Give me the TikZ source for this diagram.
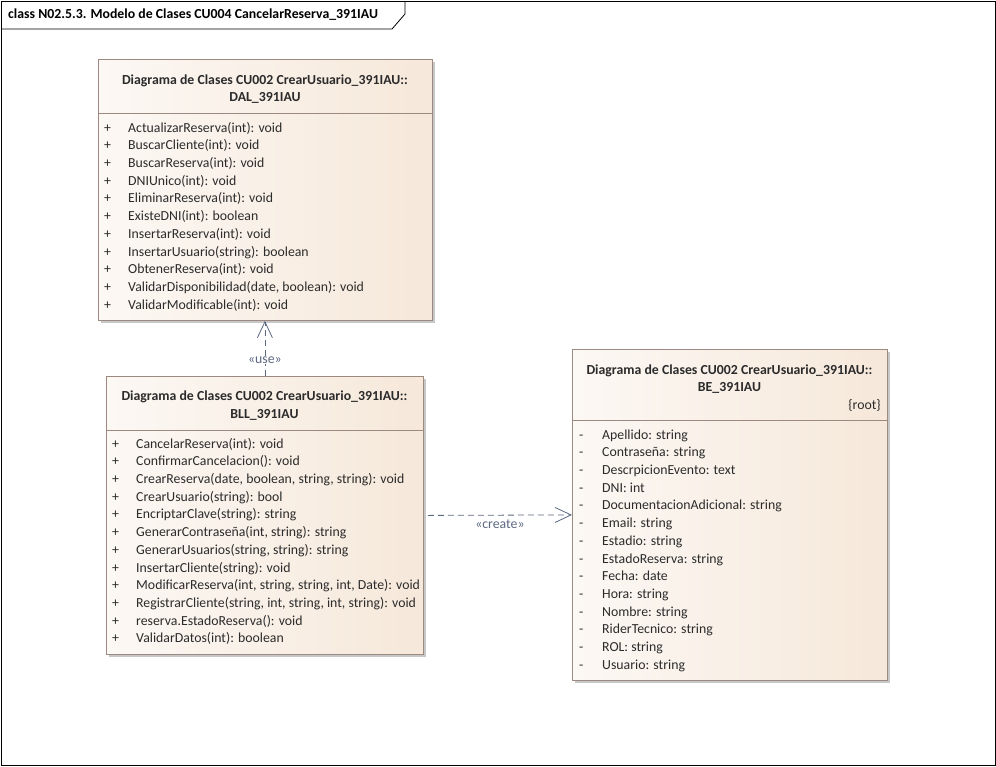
\documentclass[tikz,border=0pt]{standalone}
\usepackage{fontspec}
\setmainfont{Carlito}
\usetikzlibrary{arrows.meta,shadows}

\definecolor{borde}{HTML}{9C8A82}
\definecolor{relleno}{HTML}{F6E8DA}
\definecolor{claro}{HTML}{FCF8F4}
\definecolor{flecha}{HTML}{5C6880}
\definecolor{texto}{HTML}{2B2B2B}

\tikzset{
  clase/.style={draw=borde, line width=0.8pt, left color=claro, right color=relleno,
    general shadow={fill=black!22, shadow xshift=3pt, shadow yshift=-3pt},
    inner sep=0pt, anchor=north west},
  titulo/.style={font=\bfseries\fontsize{13.8}{17.5}\selectfont, align=center, text=texto, inner sep=0pt},
  filas/.style={anchor=north west, inner sep=0pt, font=\fontsize{13.8}{17.7}\selectfont, text=texto},
  dep/.style={draw=flecha, dash pattern=on 6pt off 4pt, line width=0.8pt,
    -{Straight Barb[length=16pt,width=15pt]}},
  estereo/.style={font=\fontsize{13.8}{15}\selectfont, text=flecha, inner sep=1pt},
}

\begin{document}
\begin{tikzpicture}[x=1pt, y=-1pt]
        \useasboundingbox (0,0) rectangle (996,766);

        % Marco
        \draw[line width=0.8pt] (1,1) rectangle (995,765);
        \draw[line width=0.8pt] (1,29) -- (392,29) -- (405,14) -- (405,1);
        \node[anchor=west, font=\bfseries\fontsize{13.8}{15}\selectfont, inner sep=0pt] (marco) at (8,15)
            {class N02.5.3. Modelo de Clases CU004 CancelarReserva\_391IAU};

        % Clases
        \node[clase, minimum width=334pt, minimum height=261pt] (dal) at (98,59) {};
        \node[clase, minimum width=317pt, minimum height=278pt] (bll) at (106,376) {};
        \node[clase, minimum width=315pt, minimum height=331pt] (be) at (572,349) {};

        \draw[borde, line width=0.8pt] ([yshift=-54pt]dal.north west) -- ([yshift=-54pt]dal.north east);
        \draw[borde, line width=0.8pt] ([yshift=-54pt]bll.north west) -- ([yshift=-54pt]bll.north east);
        \draw[borde, line width=0.8pt] ([yshift=-71pt]be.north west) -- ([yshift=-71pt]be.north east);

        % Titulos
        \node[titulo] (tdal) at (265,89) {Diagrama de Clases CU002 CrearUsuario\_391IAU::\\DAL\_391IAU};
        \node[titulo] (tbll) at (264.5,405.5) {Diagrama de Clases CU002 CrearUsuario\_391IAU::\\BLL\_391IAU};
        \node[titulo] (tbe) at (729.5,379) {Diagrama de Clases CU002 CrearUsuario\_391IAU::\\BE\_391IAU};
        \node[anchor=east, font=\fontsize{13.8}{15}\selectfont, text=texto, inner sep=0pt] (root) at (881,405) {\{root\}};

        % Operaciones y atributos
        \node[filas] (fdal) at (104,119.6) {\begin{tabular}{@{}p{24pt}@{}l@{}}
            + & ActualizarReserva(int): void\\
            + & BuscarCliente(int): void\\
            + & BuscarReserva(int): void\\
            + & DNIUnico(int): void\\
            + & EliminarReserva(int): void\\
            + & ExisteDNI(int): boolean\\
            + & InsertarReserva(int): void\\
            + & InsertarUsuario(string): boolean\\
            + & ObtenerReserva(int): void\\
            + & ValidarDisponibilidad(date, boolean): void\\
            + & ValidarModificable(int): void
        \end{tabular}};

        \node[filas] (fbll) at (112,435.6) {\begin{tabular}{@{}p{24pt}@{}l@{}}
            + & CancelarReserva(int): void\\
            + & ConfirmarCancelacion(): void\\
            + & CrearReserva(date, boolean, string, string): void\\
            + & CrearUsuario(string): bool\\
            + & EncriptarClave(string): string\\
            + & GenerarContraseña(int, string): string\\
            + & GenerarUsuarios(string, string): string\\
            + & InsertarCliente(string): void\\
            + & ModificarReserva(int, string, string, int, Date): void\\
            + & RegistrarCliente(string, int, string, int, string): void\\
            + & reserva.EstadoReserva(): void\\
            + & ValidarDatos(int): boolean
        \end{tabular}};

        \node[filas] (fbe) at (579,426.6) {\begin{tabular}{@{}p{23pt}@{}l@{}}
            - & Apellido: string\\
            - & Contraseña: string\\
            - & DescrpicionEvento: text\\
            - & DNI: int\\
            - & DocumentacionAdicional: string\\
            - & Email: string\\
            - & Estadio: string\\
            - & EstadoReserva: string\\
            - & Fecha: date\\
            - & Hora: string\\
            - & Nombre: string\\
            - & RiderTecnico: string\\
            - & ROL: string\\
            - & Usuario: string
        \end{tabular}};

        % Dependencias
        \draw[dep] (bll.north) -- node[estereo, fill=white, pos=0.29] (use) {«use»} (bll.north |- dal.south);
        \draw[dep] ([xshift=4pt]bll.east) -- node[estereo, below=3pt, midway] (create) {«create»} (be.west);
    \end{tikzpicture}
\end{document}
